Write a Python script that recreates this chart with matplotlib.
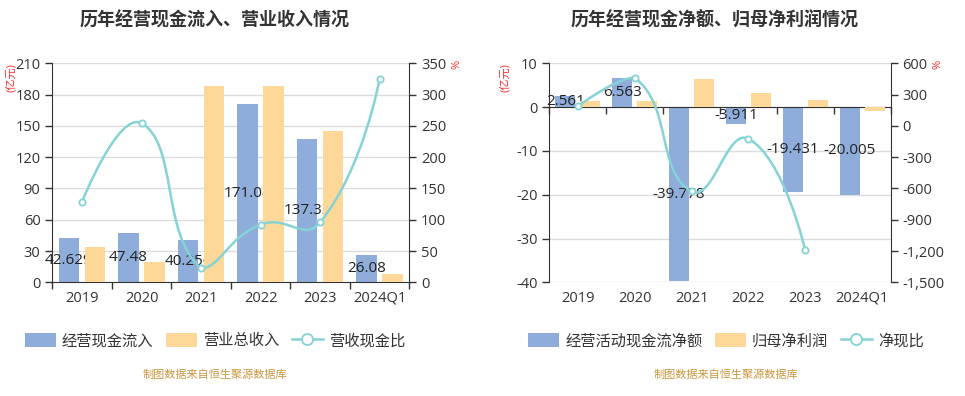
import numpy as np
import matplotlib
matplotlib.use("Agg")
import matplotlib.pyplot as plt
from matplotlib.path import Path
from matplotlib.patches import PathPatch, Patch
from matplotlib.lines import Line2D
from matplotlib.ticker import FuncFormatter

plt.rcParams['font.family'] = ['Open Sans', 'Noto Sans CJK SC', 'DejaVu Sans']
plt.rcParams['axes.unicode_minus'] = False

# ---- data ----
years = ['2019', '2020', '2021', '2022', '2023', '2024Q1']

cash_inflow = [42.629, 47.48, 40.256, 171.08, 137.32, 26.08]
revenue = [33.6, 19.2, 188.3, 188.6, 145.1, 8.2]
cash_rev_ratio = [128.9, 254.1, 22.4, 92.2, 95.9, 324.4]

net_cash = [2.561, 6.563, -39.778, -3.911, -19.431, -20.005]
net_profit = [1.38, 1.42, 6.33, 3.15, 1.63, -0.85]
net_cash_ratio = [186, 462, -628, -124, -1195]

BLUE = '#8eaddb'
ORANGE = '#fed898'
TEAL = '#86d3d6'
AXIS = '#333333'
GRID = '#dcdcdc'
TXT = '#333333'
RED = '#ff2a2a'

W, H = 965, 396
fig = plt.figure(figsize=(W / 100, H / 100), dpi=100)


def px_axes(x0, y0, x1, y1):
    return fig.add_axes([x0 / W, 1 - y1 / H, (x1 - x0) / W, (y1 - y0) / H])


def smooth_line(ax, xs, ys, smooth=0.5, **kw):
    # echarts-like bezier smoothing, done in pixel space
    pts = ax.transData.transform(np.column_stack([xs, ys]).astype(float))
    lo, hi = pts.min(axis=0), pts.max(axis=0)
    verts, codes = [pts[0]], [Path.MOVETO]
    cp0 = pts[0].copy()
    n = len(pts)
    for i in range(1, n):
        p, prev = pts[i], pts[i - 1]
        if i + 1 < n:
            nxt = pts[i + 1]
            v = nxt - prev
            lp = np.hypot(*(p - prev))
            ln = np.hypot(*(nxt - p))
            r = ln / (ln + lp)
            cp1 = p - v * smooth * (1 - r)
        else:
            v = np.zeros(2)
            r = 0.5
            cp1 = p.copy()
        cp0 = np.clip(cp0, lo, hi)
        cp1 = np.clip(cp1, lo, hi)
        verts += [cp0, cp1, p]
        codes += [Path.CURVE4] * 3
        cp0 = p + v * smooth * r
    data = ax.transData.inverted().transform(np.array(verts))
    ax.add_patch(PathPatch(Path(data, codes), fill=False, **kw))


def style_axes(ax, ax2):
    for a in (ax, ax2):
        a.spines['top'].set_visible(False)
        a.tick_params(colors=AXIS, labelcolor=TXT, labelsize=10.5, length=5, width=1)
    ax.spines['right'].set_visible(False)
    ax2.spines['left'].set_visible(False)
    ax2.spines['bottom'].set_visible(False)
    ax.spines['left'].set_color(AXIS)
    ax2.spines['right'].set_color(AXIS)
    ax.spines['bottom'].set_color(AXIS)
    ax.yaxis.grid(True, color=GRID, linewidth=1)
    ax.set_axisbelow(True)
    ax.set_xlim(-0.5, len(years) - 0.5)
    ax2.set_xlim(-0.5, len(years) - 0.5)


def draw_bars(ax, s1, s2):
    x = np.arange(len(years))
    off, bw = 0.22, 0.345
    ax.bar(x - off, s1, bw, color=BLUE, zorder=2)
    ax.bar(x + off, s2, bw, color=ORANGE, zorder=4)
    for xi, v in zip(x, s1):
        ax.text(xi - off, v / 2, f'{v:g}', ha='center', va='center',
                fontsize=11, color='#222222', zorder=3)


def category_labels(ax):
    # tick marks at category boundaries, labels at category centres
    ax.set_xticks(np.arange(len(years) + 1) - 0.5)
    ax.set_xticklabels([])
    ax.tick_params(axis='x', length=5)
    sec = ax.secondary_xaxis('bottom')
    sec.set_xticks(np.arange(len(years)), labels=years)
    sec.tick_params(length=0, labelsize=10.5, labelcolor=TXT, pad=6)
    sec.spines['bottom'].set_visible(False)


# ---------- left chart ----------
axL = px_axes(52.3, 63.3, 409.3, 282.3)
axL2 = axL.twinx()
style_axes(axL, axL2)
axL.set_ylim(0, 210)
axL.set_yticks(np.arange(0, 211, 30))
axL2.set_ylim(0, 350)
axL2.set_yticks(np.arange(0, 351, 50))
draw_bars(axL, cash_inflow, revenue)
category_labels(axL)
smooth_line(axL2, np.arange(len(cash_rev_ratio)), cash_rev_ratio,
            edgecolor=TEAL, linewidth=1.8, zorder=5)
axL2.plot(np.arange(len(cash_rev_ratio)), cash_rev_ratio, 'o', ms=4.5,
          mfc='white', mec=TEAL, mew=1.3, zorder=6)

# ---------- right chart ----------
axR = px_axes(549.3, 63.3, 890.7, 282.3)
axR2 = axR.twinx()
style_axes(axR, axR2)
axR.set_ylim(-40, 10)
axR.set_yticks(np.arange(-40, 11, 10))
axR2.set_ylim(-1500, 600)
axR2.set_yticks(np.arange(-1500, 601, 300))
axR2.yaxis.set_major_formatter(FuncFormatter(lambda v, p: f'{int(v):,}'))
axR.spines['bottom'].set_position(('data', 0))
draw_bars(axR, net_cash, net_profit)
category_labels(axR)
smooth_line(axR2, np.arange(len(net_cash_ratio)), net_cash_ratio,
            edgecolor=TEAL, linewidth=1.8, zorder=5)
axR2.plot(np.arange(len(net_cash_ratio)), net_cash_ratio, 'o', ms=4.5,
          mfc='white', mec=TEAL, mew=1.3, zorder=6)

# ---------- titles, units, legends, source ----------
fig.text(215 / W, 1 - 20 / H, '历年经营现金流入、营业收入情况', ha='center', va='center',
         fontsize=13, fontweight='bold', color=TXT)
fig.text(715 / W, 1 - 20 / H, '历年经营现金净额、归母净利润情况', ha='center', va='center',
         fontsize=13, fontweight='bold', color=TXT)

for ux, px in ((12, 457), (506, 938)):
    fig.text(ux / W, 1 - 78 / H, '(亿元)', rotation=90, ha='center', va='center',
             fontsize=8, color=RED)
    fig.text(px / W, 1 - 64 / H, '%', rotation=90, ha='center', va='center',
             fontsize=8, color=RED)


def add_legend(cx, labels):
    handles = [Patch(facecolor=BLUE, edgecolor='none'),
               Patch(facecolor=ORANGE, edgecolor='none'),
               Line2D([], [], color=TEAL, lw=1.8, marker='o', ms=8,
                      mfc='white', mec=TEAL, mew=1.3)]
    fig.legend(handles, labels, loc='center', bbox_to_anchor=(cx / W, 1 - 341 / H),
               ncol=3, frameon=False, fontsize=11, handlelength=2.0,
               handleheight=1.1, handletextpad=0.4, columnspacing=0.85,
               labelcolor=TXT)


add_legend(215, ['经营现金流入', '营业总收入', '营收现金比'])
add_legend(726, ['经营活动现金流净额', '归母净利润', '净现比'])

for cx in (215, 726):
    fig.text(cx / W, 1 - 375 / H, '制图数据来自恒生聚源数据库', ha='center', va='center',
             fontsize=8, color='#c9973f')

fig.savefig('out.png', dpi=100)
